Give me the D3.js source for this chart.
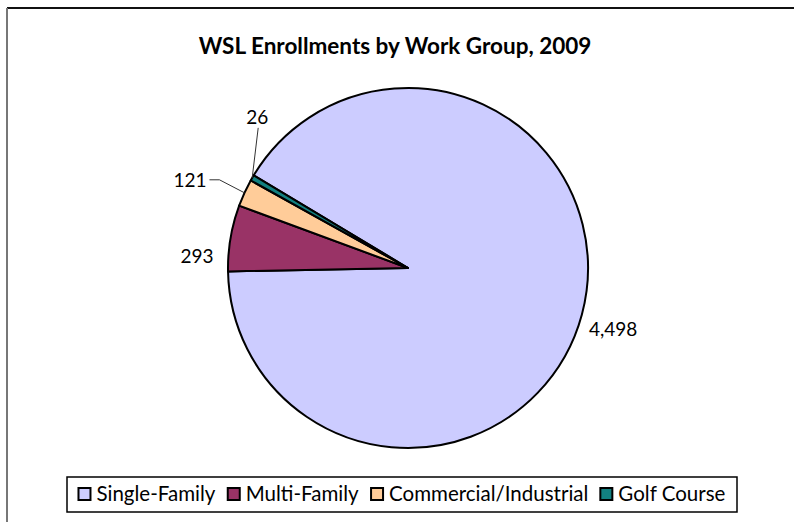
<!DOCTYPE html>
<html>
<head>
<meta charset="utf-8">
<script src="https://cdn.jsdelivr.net/npm/d3@7"></script>
<style>
  html, body { margin: 0; padding: 0; background: #fff; }
  svg { display: block; font-family: Lato, "Open Sans", sans-serif; }
</style>
</head>
<body>
<svg id="chart" width="794" height="522"></svg>
<script>
// Enrollment counts by work group
const categories = ["Single-Family", "Multi-Family", "Commercial/Industrial", "Golf Course"];
const enrollments = [4498, 293, 121, 26];
const colors = ["#CCCCFF", "#993366", "#FFCC99", "#128080"];
const title = "WSL Enrollments by Work Group, 2009";

const svg = d3.select("#chart");
const W = 794, H = 522;

// Chart frame (top and left edges visible)
svg.append("line").attr("x1", 7).attr("y1", 8).attr("x2", W).attr("y2", 8)
  .attr("stroke", "#111").attr("stroke-width", 2);
svg.append("line").attr("x1", 7).attr("y1", 8).attr("x2", 7).attr("y2", H)
  .attr("stroke", "#777").attr("stroke-width", 2);

// Title
svg.append("text")
  .attr("x", 395).attr("y", 54)
  .attr("text-anchor", "middle")
  .attr("font-weight", "bold")
  .attr("font-size", 22.5)
  .attr("fill", "#000")
  .text(title);

// Pie
const cx = 408, cy = 268, R = 180;
const firstSlice = 301 * Math.PI / 180;
const pie = d3.pie().sort(null).value(d => d)
  .startAngle(firstSlice).endAngle(firstSlice + 2 * Math.PI);
const arcs = pie(enrollments);
const arc = d3.arc().innerRadius(0).outerRadius(R);
const edge = d3.arc().innerRadius(R).outerRadius(R);

const g = svg.append("g").attr("transform", `translate(${cx},${cy})`);
g.selectAll("path.slice")
  .data(arcs)
  .join("path")
  .attr("class", "slice")
  .attr("d", arc)
  .attr("fill", (d, i) => colors[i])
  .attr("stroke", "#000")
  .attr("stroke-width", 2)
  .attr("stroke-linejoin", "round");

// Data labels: offset from the slice's outer edge point, with leader lines for the thin slices
const fmt = d3.format(",");
const labelCfg = [
  { dx: 7, dy: 22, anchor: "start", leader: null },
  { dx: -17, dy: 25, anchor: "end", leader: null },
  { dx: -38, dy: -6, anchor: "end", leader: "elbow" },
  { dx: 5, dy: -54, anchor: "middle", leader: "straight" }
];

arcs.forEach((d, i) => {
  const [ex, ey] = edge.centroid(d);
  const c = labelCfg[i];
  const tx = ex + c.dx, ty = ey + c.dy;
  g.append("text")
    .attr("x", tx).attr("y", ty)
    .attr("text-anchor", c.anchor)
    .attr("font-size", 19)
    .attr("fill", "#000")
    .text(fmt(d.data));
  if (c.leader === "elbow") {
    const y0 = ty - 7;
    g.append("path")
      .attr("d", `M${tx + 3},${y0}H${tx + 13}L${ex},${ey}`)
      .attr("fill", "none").attr("stroke", "#333").attr("stroke-width", 1);
  } else if (c.leader === "straight") {
    g.append("path")
      .attr("d", `M${tx + 1},${ty + 4}L${ex},${ey}`)
      .attr("fill", "none").attr("stroke", "#333").attr("stroke-width", 1);
  }
});

// Legend
const legend = svg.append("g");
const box = { x: 67, y: 477, w: 670, h: 35 };
legend.append("rect")
  .attr("x", box.x).attr("y", box.y).attr("width", box.w).attr("height", box.h)
  .attr("fill", "#fff").attr("stroke", "#000").attr("stroke-width", 1.5);

const items = legend.selectAll("g.item").data(categories).join("g").attr("class", "item");
items.append("rect")
  .attr("width", 12).attr("height", 12)
  .attr("fill", (d, i) => colors[i])
  .attr("stroke", "#000").attr("stroke-width", 2);
items.append("text")
  .attr("x", 18).attr("y", 12.5)
  .attr("font-size", 20.5)
  .attr("fill", "#000")
  .text(d => d);

const gap = 12;
const widths = [];
items.each(function() { widths.push(this.getBBox().width); });
const total = d3.sum(widths) + gap * (widths.length - 1);
let x = box.x + (box.w - total) / 2;
items.each(function(d, i) {
  d3.select(this).attr("transform", `translate(${x},${box.y + 11})`);
  x += widths[i] + gap;
});
</script>
</body>
</html>
